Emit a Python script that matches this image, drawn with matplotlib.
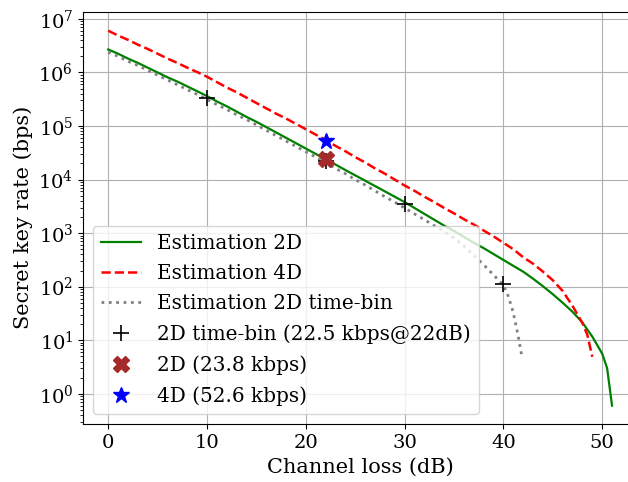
import matplotlib
matplotlib.use("Agg")
import matplotlib.pyplot as plt
import numpy as np

plt.rcParams['font.family'] = ['DejaVu Serif']
plt.rcParams['font.size'] = 14

# Estimation 2D
loss_2d = [0, 1, 2, 3, 4, 5, 6, 7, 8, 9, 10, 11, 12, 13, 14, 15, 16, 17, 18, 19,
           20, 21, 22, 23, 24, 25, 26, 27, 28, 29, 30, 31, 32, 33, 34, 35, 36, 37,
           38, 39, 40, 41, 42, 43, 44, 45, 46, 47, 48, 49, 50, 50.5, 51]
rate_2d = [2.69e6, 2.24e6, 1.82e6, 1.51e6, 1.23e6, 1.00e6, 8.13e5, 6.76e5, 5.50e5,
           4.47e5, 3.63e5, 2.88e5, 2.34e5, 1.86e5, 1.48e5, 1.20e5, 9.55e4, 7.59e4,
           6.03e4, 4.79e4, 3.80e4, 3.02e4, 2.40e4, 1.91e4, 1.51e4, 1.20e4, 9.55e3,
           7.59e3, 6.03e3, 4.79e3, 3.80e3, 2.95e3, 2.29e3, 1.78e3, 1.38e3, 1.10e3,
           851, 661, 525, 407, 316, 245, 191, 141, 102, 72.4, 50.1, 33.9, 21.4, 11.7,
           5.62, 3.02, 0.60]

# Estimation 4D
loss_4d = [0, 1, 2, 3, 4, 5, 6, 7, 8, 9, 10, 11, 12, 13, 14, 15, 16, 17, 18, 19,
           20, 21, 22, 23, 24, 25, 26, 27, 28, 29, 30, 31, 32, 33, 34, 35, 36, 37,
           38, 39, 40, 41, 42, 43, 44, 45, 46, 47, 48, 48.5, 49]
rate_4d = [6.03e6, 4.90e6, 4.07e6, 3.31e6, 2.75e6, 2.24e6, 1.82e6, 1.51e6, 1.23e6,
           1.02e6, 8.32e5, 6.61e5, 5.25e5, 4.27e5, 3.39e5, 2.69e5, 2.14e5, 1.70e5,
           1.38e5, 1.10e5, 8.71e4, 6.92e4, 5.50e4, 4.27e4, 3.39e4, 2.63e4, 2.09e4,
           1.62e4, 1.29e4, 1.00e4, 7.76e3, 6.17e3, 4.79e3, 3.80e3, 2.95e3, 2.34e3,
           1.82e3, 1.45e3, 1.12e3, 871, 661, 501, 355, 269, 191, 132, 83.2, 43.7,
           20.9, 12.6, 4.90]

# Estimation 2D time-bin
loss_tb = [0, 1, 2, 3, 4, 5, 6, 7, 8, 9, 10, 11, 12, 13, 14, 15, 16, 17, 18, 19,
           20, 21, 22, 23, 24, 25, 26, 27, 28, 29, 30, 31, 32, 33, 34, 35, 36, 37,
           38, 39, 40, 40.5, 41, 41.5, 41.9]
rate_tb = [2.40e6, 2.00e6, 1.62e6, 1.35e6, 1.10e6, 8.91e5, 7.24e5, 5.89e5, 4.79e5,
           3.89e5, 3.16e5, 2.51e5, 2.04e5, 1.62e5, 1.32e5, 1.05e5, 8.32e4, 6.61e4,
           5.25e4, 4.17e4, 3.31e4, 2.63e4, 2.09e4, 1.62e4, 1.29e4, 1.00e4, 7.94e3,
           6.17e3, 4.79e3, 3.80e3, 2.95e3, 2.29e3, 1.78e3, 1.38e3, 1.07e3, 813, 575,
           389, 257, 166, 107, 66.1, 33.1, 12.0, 4.68]

# Measurements
meas_tb_loss = [10, 22, 30, 40]
meas_tb_rate = [3.3e5, 2.25e4, 3.5e3, 1.1e2]
meas_2d_loss = [22]
meas_2d_rate = [2.38e4]
meas_4d_loss = [22]
meas_4d_rate = [5.26e4]

fig = plt.figure(figsize=(6.28, 4.82), dpi=100)
ax = fig.add_axes([0.1322, 0.1203, 0.8825, 0.8554])

ax.semilogy(loss_2d, rate_2d, color='green', lw=1.6, label='Estimation 2D')
ax.semilogy(loss_4d, rate_4d, color='red', ls='--', lw=1.8, label='Estimation 4D')
ax.semilogy(loss_tb, rate_tb, color='gray', ls=':', lw=2, label='Estimation 2D time-bin')
ax.plot(meas_tb_loss, meas_tb_rate, ls='none', marker='+', color='black', ms=12,
        mew=1.2, label='2D time-bin (22.5 kbps@22dB)')
ax.plot(meas_2d_loss, meas_2d_rate, ls='none', marker='X', color='brown', ms=12,
        label='2D (23.8 kbps)')
ax.plot(meas_4d_loss, meas_4d_rate, ls='none', marker='*', color='blue', ms=12,
        label='4D (52.6 kbps)')

ax.set_xlim(-2.55, 53.55)
ax.set_ylim(10**-0.565, 10**7.135)
ax.set_xticks([0, 10, 20, 30, 40, 50])
ax.grid(True, which='major')
ax.set_xlabel('Channel loss (dB)', fontsize=15)
ax.set_ylabel('Secret key rate (bps)', fontsize=15)
ax.legend(loc='lower left', fontsize=14.4, labelspacing=0.56)

fig.savefig('out.png', dpi=100)
